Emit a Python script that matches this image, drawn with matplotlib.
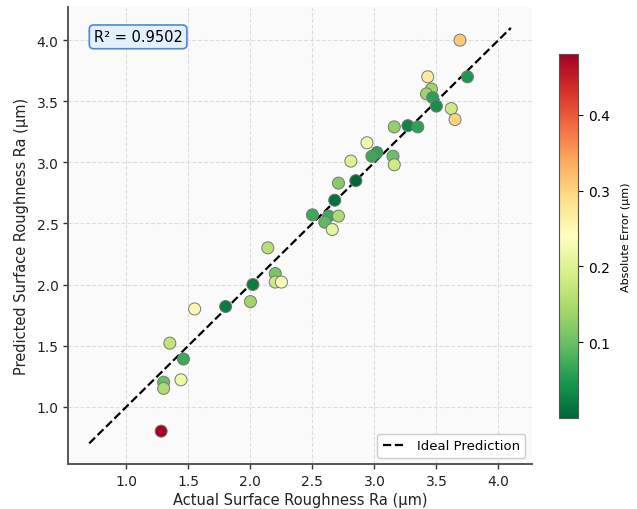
import numpy as np
import matplotlib
matplotlib.use("Agg")
import matplotlib.pyplot as plt

actual = [3.69, 3.75, 3.43, 3.46, 3.42, 3.47, 3.50, 3.62, 3.65, 3.16,
          3.27, 3.35, 2.94, 3.02, 2.98, 3.15, 3.16, 2.81, 2.71, 2.85,
          2.68, 2.50, 2.63, 2.71, 2.60, 2.66, 2.14, 2.20, 2.02, 2.20,
          2.25, 2.00, 1.55, 1.80, 1.35, 1.46, 1.44, 1.30, 1.30, 1.28]
predicted = [4.00, 3.70, 3.70, 3.60, 3.56, 3.53, 3.46, 3.44, 3.35, 3.29,
             3.30, 3.29, 3.16, 3.08, 3.05, 3.05, 2.98, 3.01, 2.83, 2.85,
             2.69, 2.57, 2.56, 2.56, 2.51, 2.45, 2.30, 2.09, 2.00, 2.02,
             2.02, 1.86, 1.80, 1.82, 1.52, 1.39, 1.22, 1.20, 1.15, 0.80]
r2_text = "R² = 0.9502"

actual = np.array(actual)
predicted = np.array(predicted)
abs_err = np.abs(actual - predicted)

fig = plt.figure(figsize=(6.37, 5.10), dpi=100)
ax = fig.add_axes([0.107, 0.088, 0.728, 0.896])
cax = fig.add_axes([0.8776, 0.178, 0.0303, 0.714])

ax.set_facecolor("#fafafa")
lo = min(actual.min(), predicted.min()) - 0.1
hi = max(actual.max(), predicted.max()) + 0.1
ax.plot([lo, hi], [lo, hi], "k--", lw=1.6, label="Ideal Prediction", zorder=2)
sc = ax.scatter(actual, predicted, c=abs_err, cmap="RdYlGn_r", s=75,
                edgecolors="#777777", linewidths=0.7, zorder=3)
pad = (hi - lo) * 0.05
ax.set_xlim(lo - pad, hi + pad)
ax.set_ylim(lo - pad, hi + pad)
ax.set_xticks([1.0, 1.5, 2.0, 2.5, 3.0, 3.5, 4.0])
ax.set_yticks([1.0, 1.5, 2.0, 2.5, 3.0, 3.5, 4.0])
ax.grid(True, ls="--", color="#dddddd", lw=0.8, zorder=0)
ax.set_axisbelow(True)
for s in ["top", "right"]:
    ax.spines[s].set_visible(False)
for s in ["left", "bottom"]:
    ax.spines[s].set_color("#555555")
    ax.spines[s].set_linewidth(1.4)
ax.tick_params(colors="#333333", labelsize=10, length=3.5, width=1, labelcolor="#222222")
ax.set_xlabel("Actual Surface Roughness Ra (µm)", fontsize=10.5, color="#222222", labelpad=3)
ax.set_ylabel("Predicted Surface Roughness Ra (µm)", fontsize=10.5, color="#222222", labelpad=5)

ax.text(0.055, 0.935, r2_text, transform=ax.transAxes, fontsize=10.5,
        va="center", ha="left",
        bbox=dict(boxstyle="round,pad=0.3", facecolor="#e3effb", edgecolor="#4a8ad4", lw=1.2))

leg = ax.legend(loc="lower right", fontsize=9.5, frameon=True, fancybox=True,
                edgecolor="#cccccc", facecolor="white", framealpha=1, borderpad=0.4,
                handlelength=1.8)

cb = fig.colorbar(sc, cax=cax)
cb.set_label("Absolute Error (µm)", fontsize=8, labelpad=8)
cb.set_ticks([0.1, 0.2, 0.3, 0.4])
cb.ax.tick_params(labelsize=10, length=3.5)
cb.outline.set_edgecolor("#555555")

fig.savefig("out.png", dpi=100)
